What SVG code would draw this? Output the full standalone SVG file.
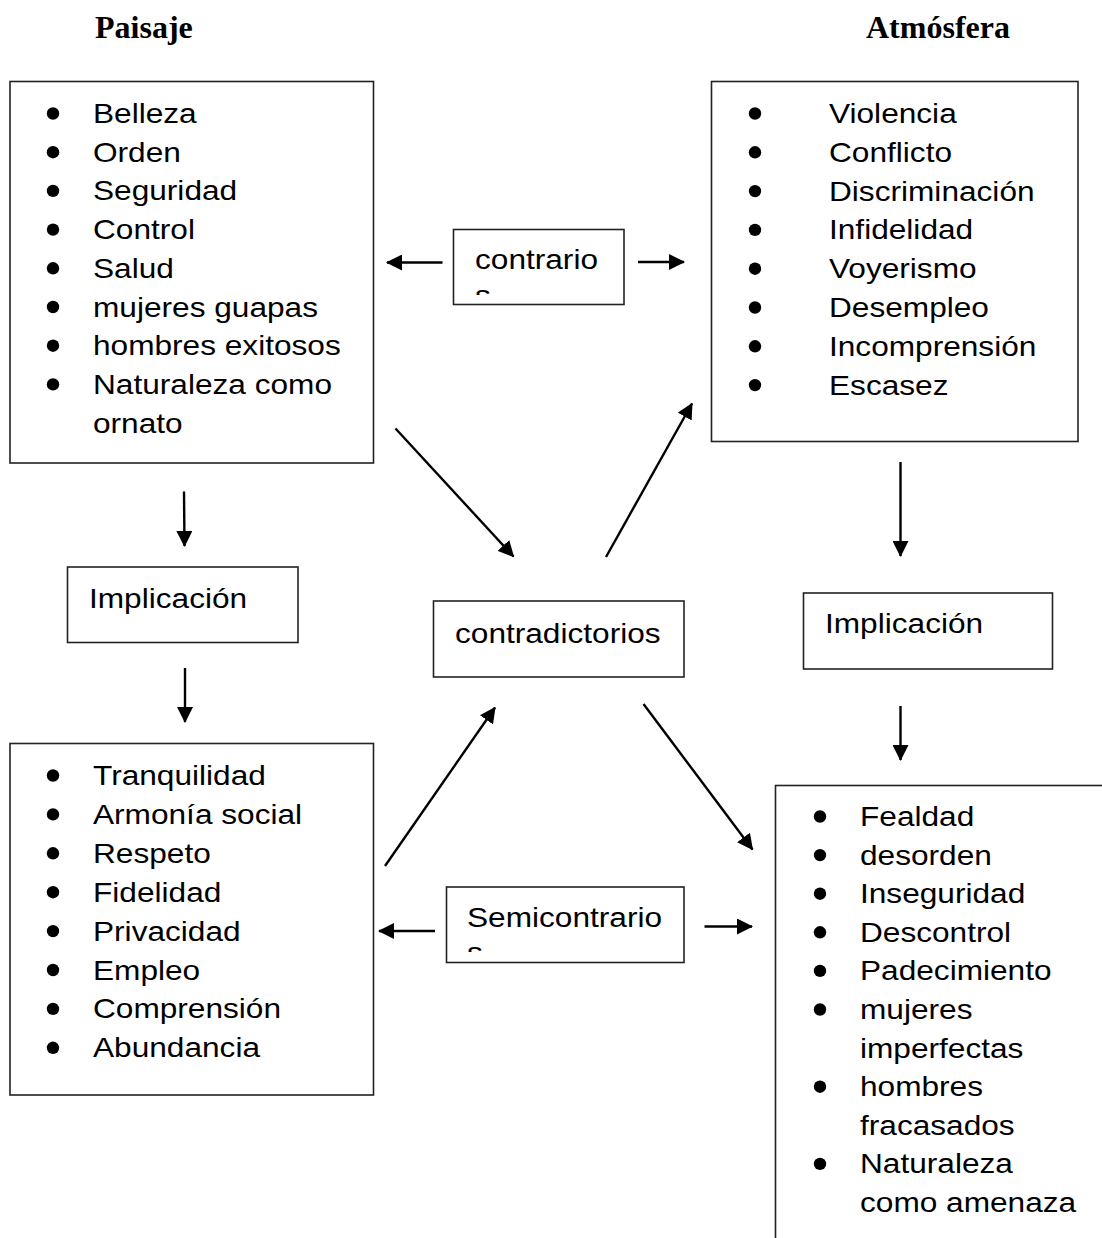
<svg xmlns="http://www.w3.org/2000/svg" width="1102" height="1238" viewBox="0 0 1102 1238">
<style>
.box{fill:#fff;stroke:#222;stroke-width:1.6}
.t{font-family:"Liberation Sans",Arial,sans-serif;font-size:27.5px;fill:#000}
.h{font-family:"Liberation Serif","Times New Roman",serif;font-size:32px;font-weight:bold;fill:#000}
.b{fill:#000}
.c{stroke:#000;stroke-width:2.4;fill:none;marker-end:url(#ah)}
</style>
<defs>
<marker id="ah" markerUnits="userSpaceOnUse" markerWidth="16" markerHeight="16" refX="15" refY="8" orient="auto">
<path d="M0,0 L16,8 L0,16 z" fill="#000"/>
</marker>
<clipPath id="clipC"><rect x="453" y="229" width="171" height="66"/></clipPath>
<clipPath id="clipS"><rect x="446" y="887" width="238" height="65"/></clipPath>
</defs>
<rect width="1102" height="1238" fill="#fff"/>

<g id="heading-paisaje"><text class="h" x="95" y="38">Paisaje</text></g>
<g id="heading-atmosfera"><text class="h" x="866" y="38">Atmósfera</text></g>

<g id="box-paisaje">
<rect class="box" x="10" y="81.5" width="363.5" height="381.5"/>
<g class="b">
<circle cx="53" cy="113.5" r="6.2"/><circle cx="53" cy="152.2" r="6.2"/><circle cx="53" cy="190.9" r="6.2"/><circle cx="53" cy="229.6" r="6.2"/>
<circle cx="53" cy="268.3" r="6.2"/><circle cx="53" cy="307" r="6.2"/><circle cx="53" cy="345.7" r="6.2"/><circle cx="53" cy="384.4" r="6.2"/>
</g>
<text class="t" transform="translate(93,123) scale(1.15,1)">Belleza</text>
<text class="t" transform="translate(93,161.7) scale(1.15,1)">Orden</text>
<text class="t" transform="translate(93,200.4) scale(1.15,1)">Seguridad</text>
<text class="t" transform="translate(93,239.1) scale(1.15,1)">Control</text>
<text class="t" transform="translate(93,277.8) scale(1.15,1)">Salud</text>
<text class="t" transform="translate(93,316.5) scale(1.15,1)">mujeres guapas</text>
<text class="t" transform="translate(93,355.2) scale(1.15,1)">hombres exitosos</text>
<text class="t" transform="translate(93,393.9) scale(1.15,1)">Naturaleza como</text>
<text class="t" transform="translate(93,432.6) scale(1.15,1)">ornato</text>
</g>

<g id="box-atmosfera">
<rect class="box" x="711.5" y="81.5" width="366.5" height="360"/>
<g class="b">
<circle cx="755" cy="113.5" r="6.2"/><circle cx="755" cy="152.3" r="6.2"/><circle cx="755" cy="191.1" r="6.2"/><circle cx="755" cy="229.9" r="6.2"/>
<circle cx="755" cy="268.7" r="6.2"/><circle cx="755" cy="307.5" r="6.2"/><circle cx="755" cy="346.3" r="6.2"/><circle cx="755" cy="385.1" r="6.2"/>
</g>
<text class="t" transform="translate(829,123) scale(1.15,1)">Violencia</text>
<text class="t" transform="translate(829,161.8) scale(1.15,1)">Conflicto</text>
<text class="t" transform="translate(829,200.6) scale(1.15,1)">Discriminación</text>
<text class="t" transform="translate(829,239.4) scale(1.15,1)">Infidelidad</text>
<text class="t" transform="translate(829,278.2) scale(1.15,1)">Voyerismo</text>
<text class="t" transform="translate(829,317) scale(1.15,1)">Desempleo</text>
<text class="t" transform="translate(829,355.8) scale(1.15,1)">Incomprensión</text>
<text class="t" transform="translate(829,394.6) scale(1.15,1)">Escasez</text>
</g>

<g id="box-contrarios">
<rect class="box" x="453.5" y="229.5" width="170.5" height="75"/>
<g clip-path="url(#clipC)">
<text class="t" transform="translate(475,269.3) scale(1.15,1)">contrario</text>
<text class="t" transform="translate(475,305) scale(1.15,1)">s</text>
</g>
</g>

<g id="implicacion-izq">
<rect class="box" x="67.5" y="567" width="230.5" height="75.5"/>
<text class="t" transform="translate(89,608.3) scale(1.15,1)">Implicación</text>
</g>

<g id="box-contradictorios">
<rect class="box" x="433.5" y="601" width="250.5" height="76"/>
<text class="t" transform="translate(455,642.7) scale(1.15,1)">contradictorios</text>
</g>

<g id="implicacion-der">
<rect class="box" x="803.5" y="593" width="249" height="76"/>
<text class="t" transform="translate(825,633.3) scale(1.15,1)">Implicación</text>
</g>

<g id="box-paisaje-implicado">
<rect class="box" x="10" y="743.5" width="363.5" height="351.5"/>
<g class="b">
<circle cx="53" cy="775.5" r="6.2"/><circle cx="53" cy="814.4" r="6.2"/><circle cx="53" cy="853.3" r="6.2"/><circle cx="53" cy="892.2" r="6.2"/>
<circle cx="53" cy="931.1" r="6.2"/><circle cx="53" cy="970" r="6.2"/><circle cx="53" cy="1008.9" r="6.2"/><circle cx="53" cy="1047.8" r="6.2"/>
</g>
<text class="t" transform="translate(93,785) scale(1.15,1)">Tranquilidad</text>
<text class="t" transform="translate(93,823.9) scale(1.15,1)">Armonía social</text>
<text class="t" transform="translate(93,862.8) scale(1.15,1)">Respeto</text>
<text class="t" transform="translate(93,901.7) scale(1.15,1)">Fidelidad</text>
<text class="t" transform="translate(93,940.6) scale(1.15,1)">Privacidad</text>
<text class="t" transform="translate(93,979.5) scale(1.15,1)">Empleo</text>
<text class="t" transform="translate(93,1018.4) scale(1.15,1)">Comprensión</text>
<text class="t" transform="translate(93,1057.3) scale(1.15,1)">Abundancia</text>
</g>

<g id="box-semicontrarios">
<rect class="box" x="446.5" y="887" width="237.5" height="75.5"/>
<g clip-path="url(#clipS)">
<text class="t" transform="translate(467,926.7) scale(1.15,1)">Semicontrario</text>
<text class="t" transform="translate(467,961.5) scale(1.15,1)">s</text>
</g>
</g>

<g id="box-atmosfera-implicada">
<rect class="box" x="775.5" y="785.5" width="340" height="480"/>
<g class="b">
<circle cx="820" cy="816.5" r="6.2"/><circle cx="820" cy="855.1" r="6.2"/><circle cx="820" cy="893.7" r="6.2"/><circle cx="820" cy="932.3" r="6.2"/>
<circle cx="820" cy="970.9" r="6.2"/><circle cx="820" cy="1009.5" r="6.2"/><circle cx="820" cy="1086.7" r="6.2"/><circle cx="820" cy="1163.9" r="6.2"/>
</g>
<text class="t" transform="translate(860,826) scale(1.15,1)">Fealdad</text>
<text class="t" transform="translate(860,864.6) scale(1.15,1)">desorden</text>
<text class="t" transform="translate(860,903.2) scale(1.15,1)">Inseguridad</text>
<text class="t" transform="translate(860,941.8) scale(1.15,1)">Descontrol</text>
<text class="t" transform="translate(860,980.4) scale(1.15,1)">Padecimiento</text>
<text class="t" transform="translate(860,1019) scale(1.15,1)">mujeres</text>
<text class="t" transform="translate(860,1057.6) scale(1.15,1)">imperfectas</text>
<text class="t" transform="translate(860,1096.2) scale(1.15,1)">hombres</text>
<text class="t" transform="translate(860,1134.8) scale(1.15,1)">fracasados</text>
<text class="t" transform="translate(860,1173.4) scale(1.15,1)">Naturaleza</text>
<text class="t" transform="translate(860,1212) scale(1.15,1)">como amenaza</text>
</g>

<g id="connectors">
<line class="c" x1="442.5" y1="262.5" x2="387" y2="262.5"/>
<line class="c" x1="638" y1="262" x2="684" y2="262"/>
<line class="c" x1="184" y1="491.5" x2="184.5" y2="546"/>
<line class="c" x1="185" y1="668" x2="185" y2="722"/>
<line class="c" x1="395.5" y1="428.5" x2="513.5" y2="556.5"/>
<line class="c" x1="606" y1="557" x2="692" y2="403.5"/>
<line class="c" x1="900.5" y1="462" x2="900.5" y2="556"/>
<line class="c" x1="900.5" y1="706" x2="900.5" y2="760"/>
<line class="c" x1="385" y1="866" x2="495" y2="707.5"/>
<line class="c" x1="643.5" y1="704" x2="752.5" y2="849.5"/>
<line class="c" x1="435" y1="931" x2="379" y2="931"/>
<line class="c" x1="704.5" y1="926.5" x2="752" y2="926.5"/>
</g>
</svg>
